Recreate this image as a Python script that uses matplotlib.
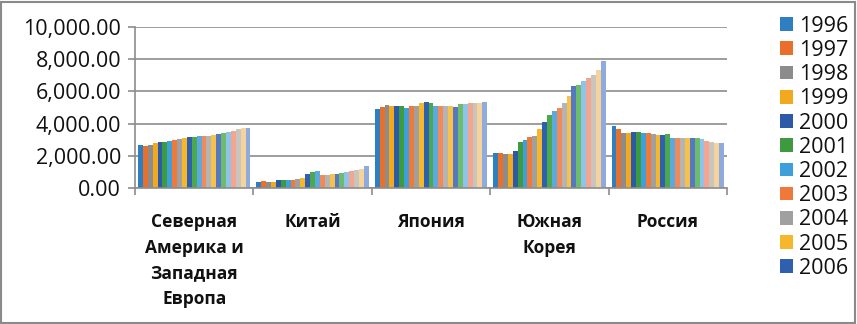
import numpy as np
import matplotlib
matplotlib.use("Agg")
import matplotlib.pyplot as plt
from matplotlib.patches import Rectangle
from matplotlib.ticker import FuncFormatter

plt.rcParams['font.family'] = ['Open Sans', 'DejaVu Sans']

regions = ["Северная\nАмерика и\nЗападная\nЕвропа", "Китай", "Япония",
           "Южная\nКорея", "Россия"]
years = [str(y) for y in range(1996, 2019)]

# values per year (rows) for each region
na_we = [2650, 2620, 2680, 2780, 2850, 2870, 2950, 3000, 3050, 3100, 3150, 3150,
         3200, 3250, 3250, 3300, 3350, 3400, 3450, 3550, 3650, 3700, 3750]
china = [400, 420, 380, 400, 480, 500, 500, 520, 580, 650, 850, 1000,
         1080, 800, 820, 850, 900, 950, 1000, 1050, 1100, 1200, 1350]
japan = [4890, 5010, 5160, 5120, 5090, 5090, 5000, 5090, 5090, 5300, 5340, 5300,
         5110, 5110, 5110, 5110, 5010, 5220, 5220, 5260, 5260, 5300, 5340]
korea = [2150, 2200, 2100, 2110, 2300, 2880, 3000, 3150, 3230, 3660, 4120, 4530,
         4780, 4950, 5300, 5730, 6340, 6400, 6650, 6810, 7020, 7330, 7900]
russia = [3850, 3640, 3430, 3400, 3500, 3460, 3430, 3400, 3330, 3270, 3290, 3360,
          3130, 3090, 3090, 3110, 3110, 3090, 3040, 2940, 2880, 2820, 2820]

colors = ["#2E7EC2", "#E8702A", "#8C8C8C", "#F2A91E", "#2C5AA8", "#3E9A3E",
          "#3EA0DA", "#F07838", "#A0A0A0", "#F6B72A", "#2F5FAF", "#4CA84C",
          "#5AA9E0", "#F08A58", "#B4B4B4", "#F8C24A", "#5578C0", "#6DBB6D",
          "#8EC3EA", "#F4A590", "#C8C4BE", "#F6D39A", "#8FAADC"]

data = np.array([na_we, china, japan, korea, russia])  # regions x years

W, H = 857, 324
fig = plt.figure(figsize=(W / 100, H / 100), dpi=100)
ax = fig.add_axes([135 / W, 1 - 188 / H, (727 - 135) / W, (188 - 27) / H])

x = np.arange(len(regions))
n = len(years)
w = 0.95 / n
handles = []
for i in range(n):
    b = ax.bar(x + (i - (n - 1) / 2) * w, data[:, i], w, color=colors[i],
               label=years[i], linewidth=0)
    handles.append(b)

ax.set_xlim(-0.5, len(regions) - 0.5)
ax.set_ylim(0, 10000)
ax.set_yticks(np.arange(0, 10001, 2000))
ax.yaxis.set_major_formatter(FuncFormatter(lambda v, p: f"{v:,.2f}"))
ax.grid(axis='y', color='#8c8c8c', linewidth=1.2)
ax.set_axisbelow(True)

ax.set_xticks(np.arange(-0.5, len(regions), 1.0))
ax.set_xticklabels([])
ax.set_xticks(x, minor=True)
ax.set_xticklabels(regions, minor=True, fontsize=12.5, fontweight='bold',
                   linespacing=1.55, va='top', color='#111111')
ax.tick_params(axis='x', which='minor', length=0, pad=18)
ax.tick_params(axis='x', which='major', length=5, color='#8c8c8c', width=1.2)
ax.tick_params(axis='y', length=5, color='#8c8c8c', width=1.2, labelsize=15.5,
               pad=5, labelcolor='#111111')

for s in ['top', 'right']:
    ax.spines[s].set_visible(False)
for s in ['left', 'bottom']:
    ax.spines[s].set_color('#8c8c8c')
    ax.spines[s].set_linewidth(1.2)

fig.legend(handles=handles[:11], labels=years[:11], loc='upper left',
           bbox_to_anchor=(771 / W, 1 - 7 / H), frameon=False, fontsize=15.5,
           labelcolor='#111111',
           handlelength=0.6, handleheight=0.6, handletextpad=0.3,
           labelspacing=0.15, borderaxespad=0)

fig.patches.append(Rectangle((1 / W, 1 / H), 1 - 3 / W, 1 - 3 / H,
                             transform=fig.transFigure, fill=False,
                             edgecolor='#8a8a8a', linewidth=1.5))

fig.savefig("out.png", dpi=100)
